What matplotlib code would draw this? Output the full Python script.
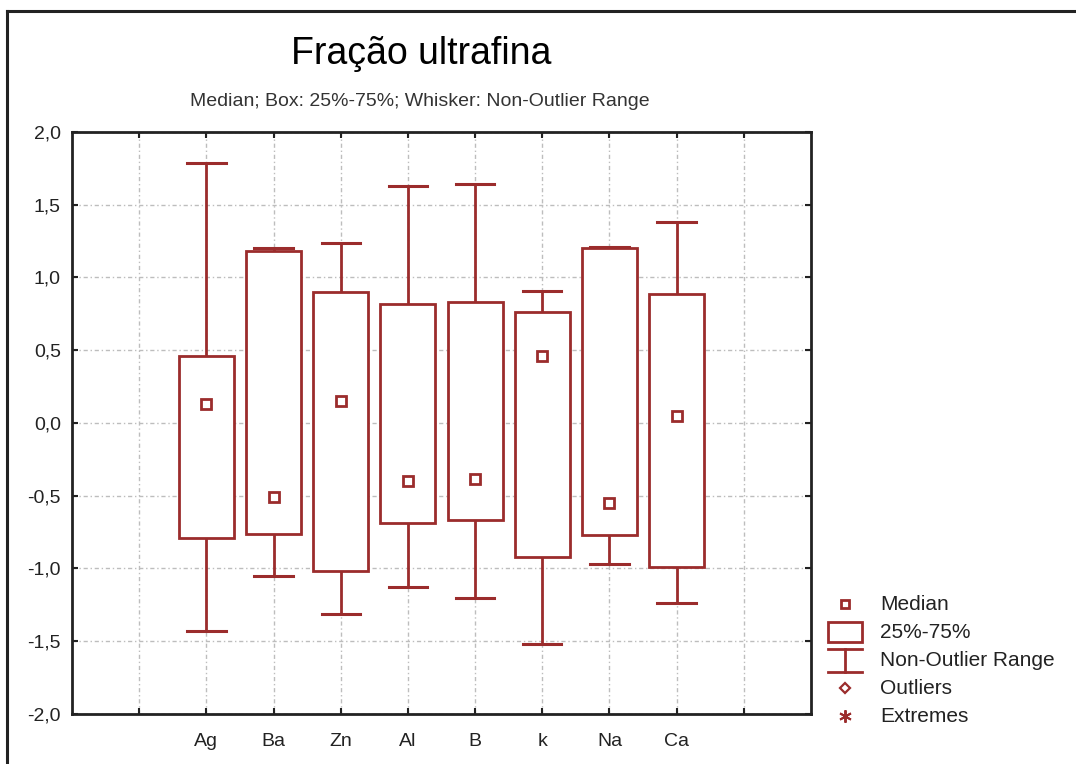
import numpy as np
import matplotlib
matplotlib.use("Agg")
import matplotlib.pyplot as plt
from matplotlib.patches import Rectangle
from matplotlib.lines import Line2D

plt.rcParams['font.family'] = ['Liberation Sans', 'DejaVu Sans']

elements = ["Ag", "Ba", "Zn", "Al", "B", "k", "Na", "Ca"]
medians = [0.13, -0.51, 0.15, -0.40, -0.385, 0.46, -0.55, 0.05]
q25 = [-0.79, -0.76, -1.02, -0.69, -0.67, -0.92, -0.77, -0.99]
q75 = [0.46, 1.18, 0.90, 0.82, 0.83, 0.76, 1.20, 0.89]
whisk_lo = [-1.43, -1.05, -1.31, -1.13, -1.20, -1.52, -0.97, -1.24]
whisk_hi = [1.79, 1.20, 1.24, 1.63, 1.64, 0.905, 1.21, 1.38]

col = "#9b2c2c"
W, H = 1076, 764
fig = plt.figure(figsize=(W / 100, H / 100), dpi=100)

# outer frame like the screenshot
fig.add_artist(Line2D([7 / W, 7 / W], [0, 1 - 11 / H], color="#222222", lw=2.2, transform=fig.transFigure))
fig.add_artist(Line2D([7 / W, 1], [1 - 11 / H, 1 - 11 / H], color="#222222", lw=2.2, transform=fig.transFigure))

left, right, top, bottom = 72, 811, 132, 714
ax = fig.add_axes([left / W, 1 - bottom / H, (right - left) / W, (bottom - top) / H])

pos = np.arange(2, 2 + len(elements))
bw = 0.82
cw = 0.57
for i, x in enumerate(pos):
    ax.plot([x, x], [q75[i], whisk_hi[i]], color=col, lw=2, zorder=3)
    ax.plot([x, x], [whisk_lo[i], q25[i]], color=col, lw=2, zorder=3)
    ax.plot([x - cw / 2, x + cw / 2], [whisk_hi[i]] * 2, color=col, lw=2.2, zorder=3)
    ax.plot([x - cw / 2, x + cw / 2], [whisk_lo[i]] * 2, color=col, lw=2.2, zorder=3)
    ax.add_patch(Rectangle((x - bw / 2, q25[i]), bw, q75[i] - q25[i],
                           facecolor="white", edgecolor=col, lw=2, zorder=4))
    ax.plot(x, medians[i], marker="s", ms=7, mfc="white", mec=col, mew=2, zorder=5)

ax.set_xlim(0, 11)
ax.set_ylim(-2, 2)
ax.set_xticks(np.arange(1, 11))
ax.set_xticklabels([""] + elements + [""])
yt = np.arange(-2, 2.01, 0.5)
ax.set_yticks(yt)
ax.set_yticklabels([f"{v:.1f}".replace(".", ",") for v in yt])
ax.tick_params(axis="both", labelsize=14, colors="#222222", length=4, width=1.5,
               direction="in", top=True, right=True)
ax.tick_params(axis="x", pad=14)
ax.tick_params(axis="y", pad=8)
ax.grid(True, color="#bdbdbd", linestyle=(0, (3, 2, 1, 2)), lw=1, zorder=0)
ax.set_axisbelow(True)
for s in ax.spines.values():
    s.set_linewidth(2)
    s.set_color("#222222")

fig.text(421 / W, 1 - 54 / H, "Fração ultrafina", fontsize=27, ha="center", va="center", color="black")
fig.text(420 / W, 1 - 101 / H, "Median; Box: 25%-75%; Whisker: Non-Outlier Range",
         fontsize=14, ha="center", va="center", color="#333333")

# custom legend drawn in pixel coordinates
lg = fig.add_axes([0, 0, 1, 1], facecolor="none")
lg.set_xlim(0, W)
lg.set_ylim(H, 0)
lg.axis("off")
mx = 845
rows = [604, 632, 660, 688, 716]
labels = ["Median", "25%-75%", "Non-Outlier Range", "Outliers", "Extremes"]
lg.plot(mx, rows[0], marker="s", ms=6, mfc="white", mec=col, mew=2)
lg.add_patch(Rectangle((mx - 17, rows[1] - 10), 34, 20, facecolor="white", edgecolor=col, lw=2))
lg.plot([mx - 17, mx + 17], [rows[2] - 11, rows[2] - 11], color=col, lw=2)
lg.plot([mx - 17, mx + 17], [rows[2] + 12, rows[2] + 12], color=col, lw=2)
lg.plot([mx, mx], [rows[2] - 11, rows[2] + 12], color=col, lw=2)
lg.plot(mx, rows[3], marker="D", ms=5, mfc="white", mec=col, mew=1.6)
lg.plot(mx, rows[4], marker=(6, 2, 0), ms=9, color=col, mew=1.4)
for r, t in zip(rows, labels):
    lg.text(880, r, t, fontsize=15, va="center", ha="left", color="#222222")

fig.savefig("out.png", dpi=100)
